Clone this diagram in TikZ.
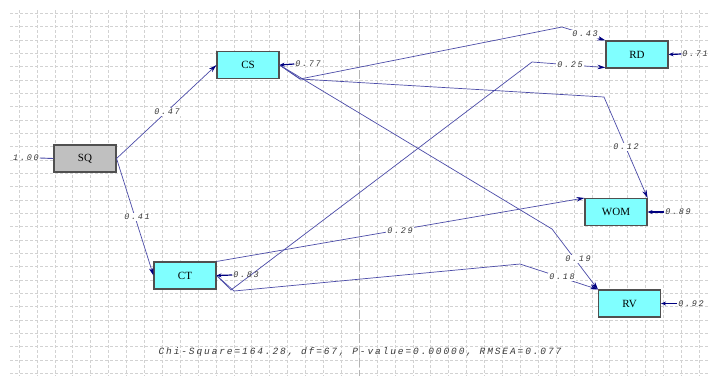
\documentclass[tikz,border=0pt]{standalone}
\usepackage{fontspec}
\setmainfont{Liberation Serif}
\newfontfamily\monolab[LetterSpace=20]{Liberation Mono}
\usetikzlibrary{arrows.meta}
\definecolor{gridc}{HTML}{D2D2D2}
\definecolor{midc}{HTML}{B4B4B4}
\definecolor{pathc}{HTML}{4C4CA8}
\definecolor{tipc}{HTML}{000080}
\definecolor{cyanbox}{HTML}{80FFFF}
\definecolor{graybox}{HTML}{C0C0C0}
\definecolor{boxline}{HTML}{505050}
\definecolor{labc}{HTML}{383838}
\tikzset{
  varbox/.style={draw=boxline, line width=1.1pt, minimum width=62pt, minimum height=27pt, inner sep=0pt, font=\fontsize{11}{12}\selectfont},
  cbox/.style={varbox, fill=cyanbox},
  gbox/.style={varbox, fill=graybox},
  conn/.style={draw=pathc, line width=0.7pt, -{Stealth[length=8pt,width=4.5pt,color=tipc,fill=tipc]}},
  plainconn/.style={draw=pathc, line width=0.9pt},
  resarrow/.style={draw=tipc, line width=1.2pt, -{Stealth[length=5pt,width=4pt,fill=tipc]}},
  elab/.style={fill=white, inner sep=0.8pt, text=labc, font=\monolab\itshape\fontsize{8.5}{9}\selectfont},
  rlab/.style={inner sep=0.8pt, text=labc, font=\monolab\itshape\fontsize{8.5}{9}\selectfont},
  gridline/.style={draw=gridc, line width=0.6pt, dash pattern=on 2.5pt off 2.5pt},
}
\begin{document}
\begin{tikzpicture}[x=1pt,y=-1pt]
\useasboundingbox (0,0) rectangle (708,376);
\fill[white] (0,0) rectangle (708,376);
% grid
\foreach \i in {0,...,38} {
  \draw[gridline] ({19+17.9*\i},10) -- ({19+17.9*\i},376);
}
\foreach \j in {1,...,28} {
  \draw[gridline] (10,{13.33*\j}) -- (708,{13.33*\j});
}
\draw[draw=midc, line width=0.8pt, dash pattern=on 9pt off 3pt] (359.5,10) -- (359.5,376);

% variables
\node[gbox] (SQ) at (85,158.5) {SQ};
\node[cbox] (CS) at (248,65) {CS};
\node[cbox] (CT) at (185,275.5) {CT};
\node[cbox] (RD) at (637,54.5) {RD};
\node[cbox] (WOM) at (616,212) {WOM};
\node[cbox] (RV) at (629.5,303.5) {RV};

% bend points
\coordinate (b1) at (300,79);
\coordinate (b2) at (562,27);
\coordinate (b3) at (604,97);
\coordinate (b4) at (552,229);
\coordinate (c1) at (231,290);
\coordinate (c2) at (532,62);
\coordinate (c3) at (234,291);
\coordinate (c4) at (520,264);

% paths
\draw[conn] (SQ.east) -- (CS.west);
\draw[conn] (SQ.east) -- (CT.west);
\draw[conn] (CS.east) -- (b1) -- (b2) -- (RD.north west);
\draw[conn] (CS.east) -- (b1) -- (b3) -- (WOM.north east);
\draw[conn] (CS.east) -- (b4) -- (RV.north west);
\draw[conn] (CT.east) -- (c1) -- (c2) -- ([yshift=1pt]RD.south west);
\draw[conn] (CT.north east) -- (WOM.north west);
\draw[conn] (CT.east) -- (c3) -- (c4) -- (RV.north west);

% path labels
\node[elab] (l47) at (167,112) {0.47};
\node[elab] (l41) at (137,217) {0.41};
\node[elab] (l43) at (585,34) {0.43};
\node[elab] (l25) at (570,64.5) {0.25};
\node[elab] (l12) at (626,147) {0.12};
\node[elab] (l29) at (400,230.5) {0.29};
\node[elab] (l19) at (578,259) {0.19};
\node[elab] (l18) at (562,277) {0.18};

% variance / residual labels
\node[rlab] (v1) at (26,158) {1.00};
\draw[plainconn] (v1.east) -- (SQ.west);
\node[rlab] (e1) at (308,64) {0.77};
\draw[resarrow] (e1.west) -- (CS.east);
\node[rlab] (e2) at (246,275) {0.83};
\draw[resarrow] (e2.west) -- (CT.east);
\node[rlab] (e3) at (695,54) {0.71};
\draw[resarrow] (e3.west) -- (RD.east);
\node[rlab] (e4) at (678,212) {0.89};
\draw[resarrow] (e4.west) -- (WOM.east);
\node[rlab] (e5) at (691,303.5) {0.92};
\draw[resarrow] (e5.west) -- (RV.east);

% fit statistics
\node[inner sep=0pt, text=labc, font=\monolab\itshape\fontsize{9.5}{10}\selectfont] (fit) at (360,352) {Chi-Square=164.28, df=67, P-value=0.00000, RMSEA=0.077};
\end{tikzpicture}
\end{document}
